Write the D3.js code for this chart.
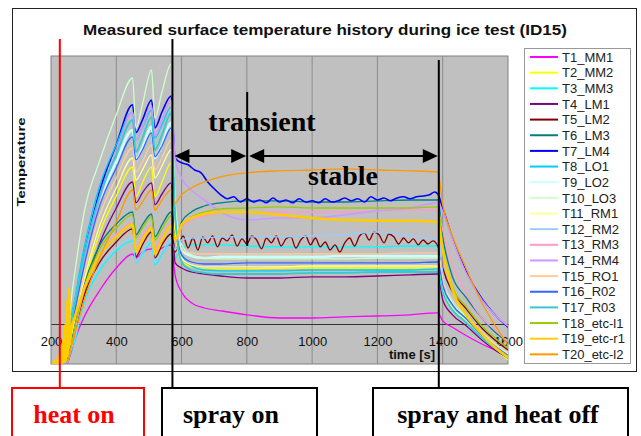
<!DOCTYPE html>
<html>
<head>
<meta charset="utf-8">
<script src="https://cdn.jsdelivr.net/npm/d3@7"></script>
<style>
  body { margin: 0; background: #fff; }
  svg { display: block; }
</style>
</head>
<body>
<div id="container"></div>
<script>
// time base shared by most channels [s]
const times = [250, 262, 275, 300, 350, 400, 450, 460, 480, 508, 518, 540, 568, 580, 600, 630, 670, 720, 800, 900, 1000, 1100, 1200, 1300, 1385, 1400, 1430, 1470, 1520, 1560, 1600];

// temperatures (arbitrary offset, 0 = axis line)
const T1  = [-10, -7, -3.5, 1.5, 8.5, 14, 17.5, 16.5, 18, 18.8, 18, 19, 19.8, 12.3, 8, 5.3, 4, 3.3, 2.3, 1.5, 1.5, 1.8, 2, 2.3, 2.8, 0.8, -0.8, -2.8, -5, -6.5, -7.8];
const T2  = [-8.5, -3.5, 1, 9.3, 23, 32, 39.3, 31.8, 35.3, 39.3, 31.8, 35.5, 40.3, 23.5, 15.5, 14.3, 13.8, 13.8, 13.8, 14, 14, 14, 14, 14, 14, 8, 3.5, 0.5, -3.5, -6.3, -9];
const T3  = [-9.8, -7, -3.5, 4.8, 13.5, 18.3, 20.8, 15.3, 17.5, 20.3, 14.8, 17.5, 20.3, 16.5, 19, 19.8, 19.8, 19.8, 19.5, 19.3, 19.3, 19.3, 19.3, 19.5, 19.5, 9.8, 4.8, 1.5, -2.8, -5.5, -8];
const T4  = [-9, -4.5, -0.5, 7.3, 20.3, 29, 35.5, 30.3, 32.8, 35.3, 29.8, 32.5, 35.3, 15.3, 14, 13, 12.5, 12, 11.5, 11.5, 11.8, 11.8, 12, 12.3, 12.5, 6, 2.3, -0.3, -4, -6.5, -8.5];
const T6  = [-9.5, -5.3, 0.5, 9.3, 19.8, 25, 28, 22.3, 24.8, 27.5, 21.8, 24.8, 28, 21, 25.5, 28, 29.5, 30.3, 30.8, 30.8, 30.5, 30.5, 30.8, 31, 31, 21.8, 11.8, 6.8, 1.5, -2, -4.5];
const T8  = [-6.5, 1.5, 7.3, 18.5, 34.8, 44.8, 53, 46, 49, 53.5, 46.5, 49.8, 54.3, 29.8, 17.3, 14.5, 13.5, 13.3, 13.3, 13.3, 13.5, 13.5, 13.5, 13.5, 13.8, 8.5, 4, 1, -3.3, -5.8, -8.3];
const T9  = [-7, -0.3, 5.3, 15.5, 31, 40.5, 48.5, 41, 44, 49.3, 41.5, 44.8, 50.3, 27.3, 18.5, 17, 16.5, 16.8, 16.8, 16.8, 16.8, 17, 17, 17, 17, 10.5, 5.5, 2, -2.5, -5.3, -7.5];
const T10 = [-5.3, 6, 14, 27.3, 41, 52.3, 61.5, 49, 54.8, 63.5, 51.5, 58, 65, 31, 19.8, 17.3, 16.5, 16.3, 16.3, 16.3, 16.3, 16.3, 16.5, 16.5, 16.5, 9.8, 5.3, 2, -2.3, -5, -7];
const T11 = [-8.3, -2.8, 2, 10.5, 24.8, 34, 41.5, 36, 38.5, 42.3, 36.5, 39.5, 43.5, 24.8, 16.5, 14.8, 14.3, 14.3, 14.3, 14.3, 14.5, 14.5, 14.5, 14.5, 14.5, 8.5, 4, 1, -3, -5.8, -8.3];
const T12 = [-9.8, -6.5, -2.8, 5.5, 14.5, 19, 21.5, 15.5, 18, 21, 15.3, 18, 21, 18.5, 21, 21.5, 21.5, 21.8, 21.8, 21.8, 22, 22.3, 23, 22, 21, 13, 6, 2.5, -2, -4.8, -7];
const T13 = [-9.8, -6, -1, 7.8, 17.3, 22.3, 25.3, 19.5, 22, 24.5, 19, 22, 25, 20.3, 24, 26, 27, 27.8, 28, 28, 28, 28, 28.3, 28.5, 28.5, 23.5, 14.8, 8, 1.5, -1.5, -4.5];
const T14 = [-7.5, -0.5, 4.8, 14.8, 31.5, 42.8, 53, 46, 49.3, 54.5, 47, 51, 56, 41.5, 36.5, 33.5, 31, 28, 26, 26.5, 26.5, 27.3, 28.3, 29, 30.3, 28, 21, 13, 6, 2.3, -0.5];
const T15 = [-8, -2, 3, 12.3, 27.3, 36.5, 44, 38, 40.5, 44.8, 38.5, 41.5, 46, 26, 18.5, 17.8, 17.5, 17.5, 17.5, 17.5, 17.5, 17.5, 17.5, 17.8, 17.8, 11, 6, 2.5, -2, -4.8, -7];
const T16 = [-7.8, -1.5, 4, 14, 29.8, 39, 46.8, 41, 43.5, 47.8, 41.8, 44.5, 49, 27.3, 17.3, 15.5, 15, 15, 15.3, 15.3, 15.3, 15.3, 15.3, 15.3, 15.5, 9.8, 4.8, 1.5, -2.8, -5.5, -7.8];
const T17 = [-7, 0.5, 6, 16.5, 32.3, 42.3, 51, 43, 46.5, 51.8, 43.5, 47.3, 52.8, 27.3, 15.5, 13.5, 12.8, 12.5, 12.5, 12.5, 12.8, 12.8, 13, 13, 13, 8, 3.5, 0.5, -3.5, -6, -8.5];
const T18 = [-9.5, -5.5, 0, 8.5, 18.8, 24, 27.3, 21.5, 24, 26.8, 21, 23.8, 27, 21.5, 24.5, 26.8, 28, 28.8, 29, 29.3, 29, 29, 29, 29, 29.3, 19.8, 9.3, 4.5, -0.5, -3.5, -6];
const T20 = [-9.5, -5.8, -2, 5.5, 16.8, 25.5, 33.5, 28.5, 30.5, 33.5, 28.5, 31, 33.5, 30.3, 32.3, 34, 35.5, 36.8, 37.8, 38.3, 38.5, 38.8, 38.5, 38.3, 38, 29.8, 22, 14.3, 5.3, -0.3, -5.3];

// T5 is noisy in the stable phase, so it has its own time base
const t5Times = [250, 262, 275, 300, 350, 400, 450, 460, 480, 508, 518, 540, 568, 580,
  590, 605, 620, 635, 650, 665, 680, 695, 710, 725, 740, 755, 770, 785, 800, 815, 830, 845,
  860, 875, 890, 905, 920, 935, 950, 965, 980, 995, 1010, 1025, 1040, 1055, 1070, 1085, 1100,
  1115, 1130, 1145, 1160, 1175, 1190, 1205, 1220, 1235, 1250, 1265, 1280, 1295, 1310, 1325,
  1340, 1355, 1370, 1385, 1400, 1430, 1470, 1520, 1560, 1600];
const T5 = [-9.8, -6.5, -2, 6.5, 15.5, 20.5, 23.8, 16.8, 19.8, 23, 16.5, 19.8, 22.5, 18,
  19.8, 22, 19, 21.5, 18.5, 21.8, 20.3, 22, 19.3, 21.5, 20.8, 22.3, 19.5, 21.3, 20, 22, 21, 18.8,
  21.5, 20.3, 22, 19.5, 21.3, 21.8, 19, 21, 22, 19.8, 21.5, 19.3, 20.5, 18.5, 19.8, 18, 20.3,
  21.5, 19.5, 22, 22.8, 21, 23, 22.3, 20.3, 22.5, 21.8, 20, 21.5, 20.3, 21.3, 19.8,
  21, 20, 20.8, 19.5, 14, 8, 4, -1, -4, -6.5];

// T7 also wobbles after spray on
const t7Times = [250, 262, 275, 300, 350, 400, 450, 460, 480, 508, 518, 540, 568,
  580, 600, 620, 640, 660, 680, 700, 720, 740, 760, 780, 800, 820, 840, 860, 880, 900, 920,
  940, 960, 980, 1000, 1020, 1040, 1060, 1080, 1100, 1120, 1140, 1160, 1180, 1200, 1220, 1240,
  1260, 1280, 1300, 1320, 1340, 1360, 1375, 1385, 1400, 1430, 1470, 1520, 1560, 1600];
const T7 = [-7, 0.5, 6, 16.5, 33.5, 44.8, 54.8, 47.8, 51, 56, 49, 53, 57,
  41.5, 40.3, 39.8, 38.5, 37.8, 35.5, 33.8, 32.3, 31.3, 31.8, 30.5, 31.3, 30.5, 31, 30.3, 31.5, 30.5, 31,
  30.3, 31.3, 30.5, 30.8, 30.3, 31.3, 30.5, 30.8, 31.5, 30.8, 31.3, 30.5, 31.8, 31, 31.5, 30.8,
  31.5, 31.8, 31.3, 31.8, 32, 32.3, 33, 32.5, 29, 21.5, 13.5, 6.3, 2.3, -0.8];

// T19 has the spiky start right after heat on
const t19Times = [205, 212, 218, 222, 226, 230, 234, 237, 240, 243, 246, 249, 252, 255, 258, 262, 275, 300, 350, 400, 450, 460, 480, 508, 518, 540, 568, 580, 600, 630, 670, 720, 800, 900, 1000, 1100, 1200, 1300, 1385, 1400, 1430, 1470, 1520, 1560, 1600];
const T19 = [-10, -9.3, -10, -8, -10, -6.5, -9.8, -4, -9.5, -0.3, -9, 6, -7.8, 9, -5.3, -1.5, 2.3, 8.5, 17.3, 21.8, 24.8, 18, 21, 24, 17.5, 21, 24.5, 21, 24.8, 26.5, 27.5, 28, 28, 27.3, 26.5, 26, 25.8, 25.8, 25.5, 18.5, 8.5, 2.5, -2.5, -5.8, -8.3];

const names = ["T1_MM1", "T2_MM2", "T3_MM3", "T4_LM1", "T5_LM2", "T6_LM3", "T7_LM4", "T8_LO1", "T9_LO2", "T10_LO3",
  "T11_RM1", "T12_RM2", "T13_RM3", "T14_RM4", "T15_RO1", "T16_R02", "T17_R03", "T18_etc-l1", "T19_etc-r1", "T20_etc-l2"];
const colors = ["#ff00ff", "#ffff00", "#00ffff", "#800080", "#800000", "#008080", "#0000ff", "#00ccff", "#ccffff", "#ccffcc",
  "#ffff99", "#99ccff", "#ff99cc", "#cc99ff", "#ffcc99", "#3366ff", "#33cccc", "#99cc00", "#ffcc00", "#ff9900"];
const widths = [1.3, 1.3, 1.3, 1.3, 1.3, 1.3, 1.6, 1.3, 2.5, 1.3, 1.3, 1.3, 1.3, 1.7, 1.3, 1.3, 1.8, 1.3, 2.5, 1.3];

const xTicks = [200, 400, 600, 800, 1000, 1200, 1400, 1600];
const gridTimes = [400, 600, 800, 1000, 1200, 1400];

// event times [s]
const heatOn = 227, sprayOn = 572, transientEnd = 801, sprayOff = 1388;

const seriesValues = [T1, T2, T3, T4, T5, T6, T7, T8, T9, T10, T11, T12, T13, T14, T15, T16, T17, T18, T19, T20];
const ownTimes = {4: t5Times, 6: t7Times, 18: t19Times};
const series = names.map((name, i) => ({
  name, color: colors[i], width: widths[i],
  points: (ownTimes[i] || times).map((t, j) => [t, seriesValues[i][j]])
}));

const width = 641, height = 436;
const plot = {left: 51, top: 56, right: 508, bottom: 364};

const svg = d3.select("#container")
  .append("svg")
  .attr("width", width)
  .attr("height", height)
  .attr("viewBox", [0, 0, width, height])
  .style("font-family", "Arial, 'Liberation Sans', sans-serif");

const x = d3.scaleLinear().domain([200, 1600]).range([plot.left, plot.right]);
const y = d3.scaleLinear().domain([-10, 67]).range([plot.bottom, plot.top]);

// chart frame
svg.append("rect")
  .attr("x", 12.5).attr("y", 8.5)
  .attr("width", 624).attr("height", 363)
  .attr("fill", "#fff").attr("stroke", "#222");

// title
svg.append("text")
  .attr("x", 325).attr("y", 35)
  .attr("text-anchor", "middle")
  .attr("font-weight", "bold")
  .attr("font-size", 15)
  .attr("textLength", 484)
  .attr("lengthAdjust", "spacingAndGlyphs")
  .attr("fill", "#111")
  .text("Measured surface temperature history during ice test (ID15)");

// plot area
svg.append("rect")
  .attr("x", plot.left).attr("y", plot.top)
  .attr("width", plot.right - plot.left).attr("height", plot.bottom - plot.top)
  .attr("fill", "#c0c0c0").attr("stroke", "#808080");

svg.append("g")
  .selectAll("line")
  .data(gridTimes)
  .join("line")
  .attr("x1", d => x(d)).attr("x2", d => x(d))
  .attr("y1", plot.top).attr("y2", plot.bottom)
  .attr("stroke", "#8c8c8c").attr("stroke-width", 1);

// x axis drawn on the zero line
const xAxis = svg.append("g")
  .attr("transform", `translate(0,${y(0)})`)
  .call(d3.axisBottom(x).tickValues(xTicks).tickSize(0).tickPadding(13).tickFormat(d3.format("d")));
xAxis.select(".domain").attr("stroke", "#333");
xAxis.selectAll("text").attr("font-size", 13).attr("fill", "#111").attr("font-family", "Arial, 'Liberation Sans', sans-serif");

svg.append("text")
  .attr("x", 412).attr("y", 359)
  .attr("text-anchor", "middle")
  .attr("font-weight", "bold").attr("font-size", 13)
  .attr("fill", "#111")
  .text("time [s]");

svg.append("text")
  .attr("transform", "translate(25,162) rotate(-90)")
  .attr("text-anchor", "middle")
  .attr("font-weight", "bold").attr("font-size", 11)
  .attr("textLength", 89).attr("lengthAdjust", "spacingAndGlyphs")
  .attr("fill", "#111")
  .text("Temperature");

// curves
svg.append("clipPath").attr("id", "clip")
  .append("rect")
  .attr("x", plot.left).attr("y", plot.top)
  .attr("width", plot.right - plot.left).attr("height", plot.bottom - plot.top);

const line = d3.line()
  .x(d => x(d[0]))
  .y(d => y(d[1]))
  .curve(d3.curveMonotoneX);

svg.append("g")
  .attr("clip-path", "url(#clip)")
  .selectAll("path")
  .data(series)
  .join("path")
  .attr("d", d => line(d.points))
  .attr("fill", "none")
  .attr("stroke", d => d.color)
  .attr("stroke-width", d => d.width)
  .attr("stroke-linejoin", "round");

// legend
const legend = svg.append("g");
legend.append("rect")
  .attr("x", 524.5).attr("y", 48.5)
  .attr("width", 106).attr("height", 315)
  .attr("fill", "#fff").attr("stroke", "#999");

const item = legend.selectAll("g.item")
  .data(series)
  .join("g")
  .attr("class", "item")
  .attr("transform", (d, i) => `translate(0,${57 + i * 15.65})`);
item.append("line")
  .attr("x1", 530).attr("x2", 558)
  .attr("stroke", d => d.color).attr("stroke-width", 2);
item.append("text")
  .attr("x", 562).attr("dy", "0.36em")
  .attr("font-size", 13).attr("fill", "#222")
  .text(d => d.name);

// annotations
const annot = svg.append("g");
const boxTop = 388;

annot.append("line")
  .attr("x1", x(heatOn)).attr("x2", x(heatOn))
  .attr("y1", 39).attr("y2", boxTop)
  .attr("stroke", "#ff0000").attr("stroke-width", 2);
annot.append("line")
  .attr("x1", x(sprayOn)).attr("x2", x(sprayOn))
  .attr("y1", 39).attr("y2", boxTop)
  .attr("stroke", "#000").attr("stroke-width", 2);
annot.append("line")
  .attr("x1", x(sprayOff)).attr("x2", x(sprayOff))
  .attr("y1", 60).attr("y2", boxTop)
  .attr("stroke", "#000").attr("stroke-width", 2);
annot.append("line")
  .attr("x1", x(transientEnd)).attr("x2", x(transientEnd))
  .attr("y1", 92).attr("y2", 246)
  .attr("stroke", "#000").attr("stroke-width", 2);

// double arrows
const arrowY = 156;
function arrow(t0, t1) {
  const a = x(t0) + 2, b = x(t1) - 1;
  annot.append("line")
    .attr("x1", a + 10).attr("x2", b - 10)
    .attr("y1", arrowY).attr("y2", arrowY)
    .attr("stroke", "#000").attr("stroke-width", 2.2);
  annot.append("path")
    .attr("d", `M${a},${arrowY}L${a + 15},${arrowY - 7}L${a + 15},${arrowY + 7}Z`)
    .attr("fill", "#000");
  annot.append("path")
    .attr("d", `M${b},${arrowY}L${b - 15},${arrowY - 7}L${b - 15},${arrowY + 7}Z`)
    .attr("fill", "#000");
}
arrow(sprayOn, transientEnd);
arrow(transientEnd, sprayOff);

annot.append("text")
  .attr("x", 262).attr("y", 131)
  .attr("text-anchor", "middle")
  .attr("font-family", "'Liberation Serif', 'Times New Roman', serif")
  .attr("font-weight", "bold").attr("font-size", 28)
  .text("transient");
annot.append("text")
  .attr("x", 343).attr("y", 185)
  .attr("text-anchor", "middle")
  .attr("font-family", "'Liberation Serif', 'Times New Roman', serif")
  .attr("font-weight", "bold").attr("font-size", 28)
  .text("stable");

// event boxes
const boxes = [
  {x0: 12, x1: 144, label: "heat on", color: "#ff0000", tx: 74},
  {x0: 162, x1: 317, label: "spray on", color: "#000", tx: 231},
  {x0: 373, x1: 628, label: "spray and heat off", color: "#000", tx: 498}
];
const box = annot.selectAll("g.box")
  .data(boxes)
  .join("g")
  .attr("class", "box");
box.append("rect")
  .attr("x", d => d.x0).attr("y", boxTop)
  .attr("width", d => d.x1 - d.x0).attr("height", 60)
  .attr("fill", "#fff").attr("stroke", d => d.color).attr("stroke-width", 2);
box.append("text")
  .attr("x", d => d.tx).attr("y", 423)
  .attr("text-anchor", "middle")
  .attr("font-family", "'Liberation Serif', 'Times New Roman', serif")
  .attr("font-weight", "bold").attr("font-size", 26)
  .attr("fill", d => d.color)
  .text(d => d.label);
</script>
</body>
</html>
